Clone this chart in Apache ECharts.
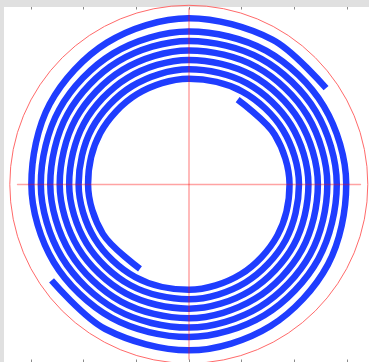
<!DOCTYPE html>
<html>
<head>
<meta charset="utf-8">
<script src="https://cdn.jsdelivr.net/npm/echarts@6/dist/echarts.min.js"></script>
<style>
  html, body { margin: 0; padding: 0; background: #e0e0e0; }
  #chart { width: 369px; height: 362px; }
</style>
</head>
<body>
<div id="chart"></div>
<script>
// Tick positions along the frame (value units)
const frameTicks = [-4, -3, -2, -1, 0, 1, 2, 3, 4];

// Spiral arm A: [radius, angle in degrees], from the outer end inwards
const spiralA = [
  [168.5, 35], [168.0, 60], [167.0, 90], [164.5, 120], [161.5, 150], [158.3, 180],
  [156.8, 210], [155.2, 240], [153.6, 270], [152.0, 300], [150.4, 330], [148.8, 0],
  [147.3, 30], [145.7, 60], [144.1, 90], [142.5, 120], [140.9, 150], [139.3, 180],
  [137.8, 210], [136.2, 240], [134.6, 270], [133.0, 300], [131.4, 330], [129.8, 0],
  [128.3, 30], [126.7, 60], [125.1, 90], [123.5, 120], [121.9, 150], [120.3, 180],
  [118.8, 210], [117.2, 240], [115.6, 270], [114.0, 300], [112.4, 330], [110.8, 0],
  [109.3, 30], [107.7, 60], [106.1, 90], [104.5, 120], [102.9, 150], [101.3, 180],
  [99.8, 210], [98.2, 240]
];

// Spiral arm B: [radius, angle in degrees], from the outer end inwards
const spiralB = [
  [168.5, 215], [168.0, 240], [167.0, 270], [164.5, 300], [161.5, 330], [158.3, 0],
  [156.8, 30], [155.2, 60], [153.6, 90], [152.0, 120], [150.4, 150], [148.8, 180],
  [147.3, 210], [145.7, 240], [144.1, 270], [142.5, 300], [140.9, 330], [139.3, 0],
  [137.8, 30], [136.2, 60], [134.6, 90], [133.0, 120], [131.4, 150], [129.8, 180],
  [128.3, 210], [126.7, 240], [125.1, 270], [123.5, 300], [121.9, 330], [120.3, 0],
  [118.8, 30], [117.2, 60], [115.6, 90], [114.0, 120], [112.4, 150], [110.8, 180],
  [109.3, 210], [107.7, 240], [106.1, 270], [104.5, 300], [102.9, 330], [101.3, 0],
  [99.8, 30], [98.2, 60]
];

// Crosshair ranges
const crossX = [-1, 1];
const crossY = [-1, 1];

const chart = echarts.init(document.getElementById('chart'), null, { renderer: 'canvas' });

const hidden = { show: false };
const spiralColor = '#1f3dff';
const tickStyle = { show: true, inside: true, length: 2.5, lineStyle: { color: '#8a8a8a', width: 1 } };
const plainAxis = { axisLine: hidden, axisTick: hidden, axisLabel: hidden, splitLine: hidden };
const noBounds = { outerBoundsMode: 'none', containLabel: false };

chart.setOption({
  animation: false,
  backgroundColor: '#e0e0e0',
  grid: [
    // white plotting frame
    Object.assign({ left: 4, top: 7, right: 0, bottom: 0, show: true, backgroundColor: '#ffffff', borderWidth: 0 }, noBounds),
    // bottom frame ticks, one unit every 52.7 px, centred on the crosshair
    Object.assign({ left: -21.8, width: 421.6, top: 7, bottom: 0 }, noBounds),
    // top frame ticks
    Object.assign({ left: -21.8, width: 421.6, top: 7, bottom: 0 }, noBounds),
    // crosshair
    Object.assign({ left: 17.5, right: 8.5, top: 9, bottom: 3 }, noBounds)
  ],
  xAxis: [
    Object.assign({ gridIndex: 0, type: 'value', min: 0, max: 1 }, plainAxis),
    { gridIndex: 1, type: 'value', position: 'bottom', min: frameTicks[0], max: frameTicks[frameTicks.length - 1], interval: 1,
      axisLine: hidden, axisLabel: hidden, splitLine: hidden, axisTick: tickStyle },
    { gridIndex: 2, type: 'value', position: 'top', min: frameTicks[0], max: frameTicks[frameTicks.length - 1], interval: 1,
      axisLine: { show: false, onZero: false }, axisLabel: hidden, splitLine: hidden, axisTick: tickStyle },
    { gridIndex: 3, type: 'value', min: crossX[0], max: crossX[1], z: 10,
      axisLine: { show: true, onZero: true, lineStyle: { color: 'rgba(255,0,0,0.36)', width: 1.4 } },
      axisTick: hidden, axisLabel: hidden, splitLine: hidden }
  ],
  yAxis: [
    Object.assign({ gridIndex: 0, type: 'value', min: 0, max: 1 }, plainAxis),
    Object.assign({ gridIndex: 1, type: 'value', min: 0, max: 1 }, plainAxis),
    Object.assign({ gridIndex: 2, type: 'value', min: 0, max: 1 }, plainAxis),
    { gridIndex: 3, type: 'value', min: crossY[0], max: crossY[1], z: 10,
      axisLine: { show: true, onZero: true, lineStyle: { color: 'rgba(255,0,0,0.27)', width: 2 } },
      axisTick: hidden, axisLabel: hidden, splitLine: hidden }
  ],
  polar: { center: [188.8, 184.3], radius: 179 },
  angleAxis: {
    type: 'value', min: 0, max: 360, startAngle: 0, clockwise: false,
    axisLine: { show: true, lineStyle: { color: '#ff6a6a', width: 1 } },
    axisTick: hidden, axisLabel: hidden, splitLine: hidden
  },
  radiusAxis: Object.assign({ type: 'value', min: 0, max: 180 }, plainAxis),
  series: [
    { type: 'line', coordinateSystem: 'polar', data: spiralA, smooth: 0.33, showSymbol: false,
      lineStyle: { color: spiralColor, width: 6.5 } },
    { type: 'line', coordinateSystem: 'polar', data: spiralB, smooth: 0.33, showSymbol: false,
      lineStyle: { color: spiralColor, width: 6.5 } }
  ]
});
</script>
</body>
</html>
